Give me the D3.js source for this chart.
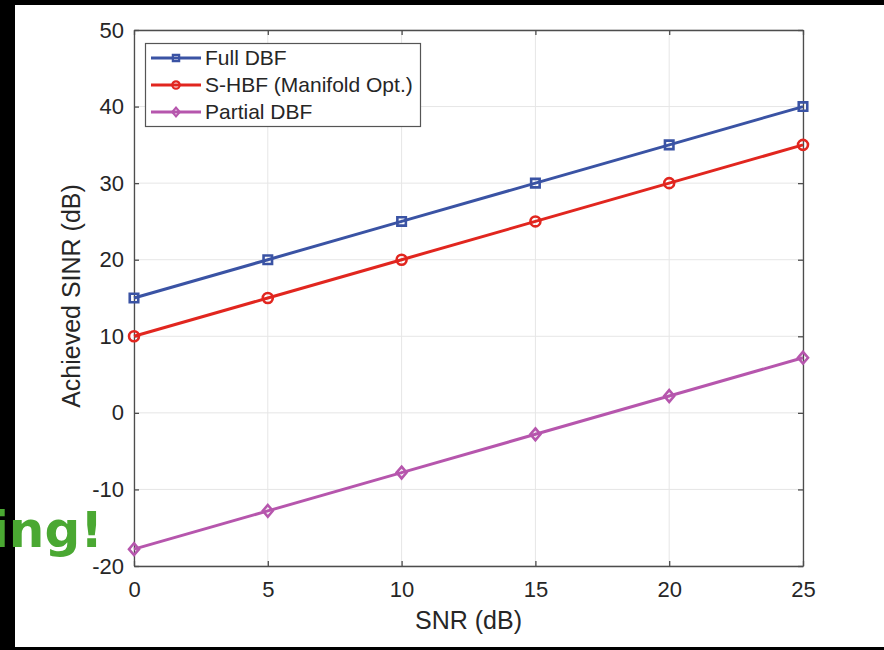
<!DOCTYPE html>
<html>
<head>
<meta charset="utf-8">
<script src="https://cdn.jsdelivr.net/npm/d3@7"></script>
<style>
  body { margin: 0; background: #fff; }
  svg { display: block; font-family: "Liberation Sans", Arial, sans-serif; }
</style>
</head>
<body>
<div id="main"></div>
<script>
// SNR values on the x axis
const snr = [0, 5, 10, 15, 20, 25]
const fullDBF = [15, 20, 25, 30, 35, 40]
const sHBF = [10, 15, 20, 25, 30, 35]
const partialDBF = [-17.8, -12.8, -7.8, -2.8, 2.2, 7.2]
const seriesNames = ["Full DBF", "S-HBF (Manifold Opt.)", "Partial DBF"]
const xTicks = [0, 5, 10, 15, 20, 25]
const yTicks = [-20, -10, 0, 10, 20, 30, 40, 50]

const W = 884, H = 650
const plot = { left: 134, right: 803, top: 30, bottom: 566 }

const svg = d3.select("#main").append("svg").attr("width", W).attr("height", H)

// frame around the picture
svg.append("rect").attr("width", W).attr("height", H).attr("fill", "#000")
svg.append("rect").attr("x", 15).attr("y", 5).attr("width", W - 15).attr("height", 642).attr("fill", "#fff")

const x = d3.scaleLinear().domain([0, 25]).range([plot.left, plot.right])
const y = d3.scaleLinear().domain([-20, 50]).range([plot.bottom, plot.top])

// grid
const grid = svg.append("g")
grid.selectAll("line.gx").data(xTicks).enter().append("line")
  .attr("x1", d => x(d)).attr("x2", d => x(d))
  .attr("y1", plot.top).attr("y2", plot.bottom)
  .attr("stroke", "#e6e6e6").attr("stroke-width", 1)
grid.selectAll("line.gy").data(yTicks).enter().append("line")
  .attr("y1", d => y(d)).attr("y2", d => y(d))
  .attr("x1", plot.left).attr("x2", plot.right)
  .attr("stroke", "#e6e6e6").attr("stroke-width", 1)

const axisColor = "#4d4d4d"
const fmt = d => String(d)   // plain hyphen for negatives, like the source
function styleAxis(g) {
  g.select(".domain").attr("stroke", axisColor).attr("stroke-width", 1.3)
  g.selectAll(".tick line").attr("stroke", axisColor).attr("stroke-width", 1.3)
  g.selectAll(".tick text").attr("fill", "#262626").attr("font-size", 22)
    .attr("font-family", "'Liberation Sans', Arial, sans-serif")
}

// bottom and left with labels, top and right with inner ticks only
svg.append("g").attr("transform", `translate(0,${plot.bottom})`)
  .call(d3.axisBottom(x).tickValues(xTicks).tickSizeInner(-5).tickSizeOuter(0).tickPadding(15).tickFormat(fmt))
  .call(styleAxis)
svg.append("g").attr("transform", `translate(${plot.left},0)`)
  .call(d3.axisLeft(y).tickValues(yTicks).tickSizeInner(-5).tickSizeOuter(0).tickPadding(10).tickFormat(fmt))
  .call(styleAxis)
svg.append("g").attr("transform", `translate(0,${plot.top})`)
  .call(d3.axisTop(x).tickValues(xTicks).tickSizeInner(-5).tickSizeOuter(0).tickFormat(""))
  .call(styleAxis)
svg.append("g").attr("transform", `translate(${plot.right},0)`)
  .call(d3.axisRight(y).tickValues(yTicks).tickSizeInner(-5).tickSizeOuter(0).tickFormat(""))
  .call(styleAxis)

// axis titles
svg.append("text").attr("x", (plot.left + plot.right) / 2).attr("y", 629)
  .attr("text-anchor", "middle").attr("font-size", 25).attr("fill", "#262626")
  .text("SNR (dB)")
svg.append("text").attr("transform", `translate(80,296) rotate(-90)`)
  .attr("text-anchor", "middle").attr("font-size", 25).attr("fill", "#262626")
  .text("Achieved SINR (dB)")

// matlab style diamond, a bit wider than d3's
const diamond = {
  draw(ctx, size) {
    const h = Math.sqrt(size) * 0.62, w = h * 0.85
    ctx.moveTo(0, -h); ctx.lineTo(w, 0); ctx.lineTo(0, h); ctx.lineTo(-w, 0); ctx.closePath()
  }
}

const series = [
  { name: seriesNames[0], values: fullDBF, color: "#3a53a4", marker: d3.symbolSquare, size: 72 },
  { name: seriesNames[1], values: sHBF, color: "#e1261f", marker: d3.symbolCircle, size: 78 },
  { name: seriesNames[2], values: partialDBF, color: "#b656ad", marker: diamond, size: 90 }
]

const line = d3.line().x((d, i) => x(snr[i])).y(d => y(d))

series.forEach(s => {
  const g = svg.append("g")
  g.append("path").datum(s.values).attr("d", line)
    .attr("fill", "none").attr("stroke", s.color).attr("stroke-width", 3)
  g.selectAll("path.m").data(s.values).enter().append("path")
    .attr("d", d3.symbol().type(s.marker).size(s.size))
    .attr("transform", (d, i) => `translate(${x(snr[i])},${y(d)})`)
    .attr("fill", "none").attr("stroke", s.color).attr("stroke-width", 2.6)
})

// legend
const lg = svg.append("g")
lg.append("rect").attr("x", 145.5).attr("y", 43.5).attr("width", 275).attr("height", 83)
  .attr("fill", "#fff").attr("stroke", "#555").attr("stroke-width", 1.2)
series.forEach((s, i) => {
  const ly = 58 + i * 27
  lg.append("line").attr("x1", 151).attr("x2", 201).attr("y1", ly).attr("y2", ly)
    .attr("stroke", s.color).attr("stroke-width", 3)
  lg.append("path").attr("d", d3.symbol().type(s.marker).size(s.size * 0.55))
    .attr("transform", `translate(176,${ly})`)
    .attr("fill", "none").attr("stroke", s.color).attr("stroke-width", 2.2)
  lg.append("text").attr("x", 205).attr("y", ly).attr("dy", "0.35em")
    .attr("font-size", 21).attr("fill", "#262626").text(s.name)
})

// overlapping caption fragment
svg.append("text").attr("x", 103).attr("y", 547).attr("text-anchor", "end")
  .attr("font-family", "'DejaVu Sans', sans-serif")
  .attr("font-size", 50).attr("font-weight", "bold").attr("fill", "#4aa832")
  .text("ing!")
</script>
</body>
</html>
